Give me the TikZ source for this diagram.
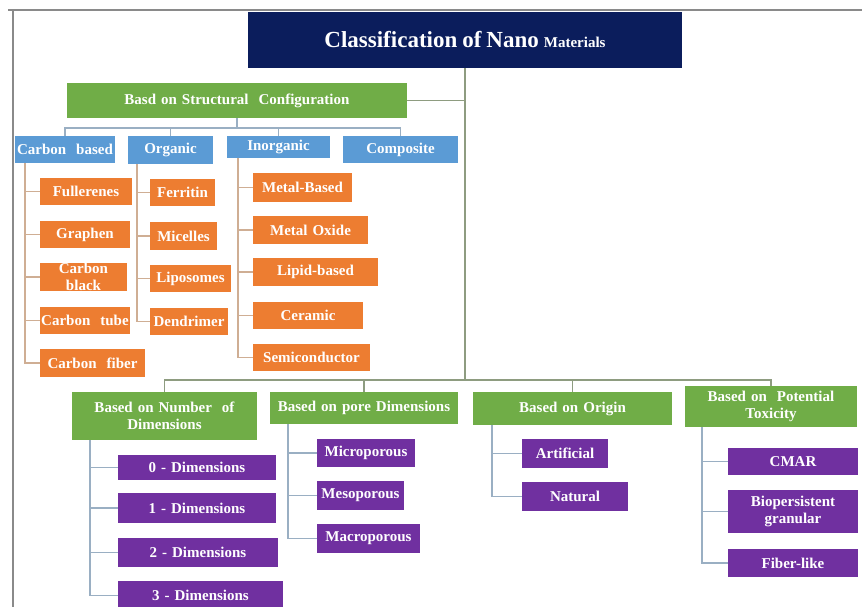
\documentclass[tikz,border=0pt]{standalone}
\usepackage{fontspec}
\setmainfont{Liberation Serif}
\definecolor{navyc}{HTML}{0B1D5C}
\definecolor{grnc}{HTML}{70AD47}
\definecolor{bluc}{HTML}{5B9BD5}
\definecolor{orgc}{HTML}{ED7D31}
\definecolor{purc}{HTML}{7030A0}
\definecolor{trkc}{HTML}{8E9C80}
\definecolor{occ}{HTML}{CFAE94}
\definecolor{bcc}{HTML}{9AAFC3}
\definecolor{frmc}{HTML}{8A8A8A}
\newcommand{\bx}[7]{%
  \pgfmathsetmacro\bxw{#5-#3}%
  \pgfmathsetmacro\bxh{#6-#4}%
  \pgfmathsetmacro\bxx{(#3+#5)/2}%
  \pgfmathsetmacro\bxy{(#4+#6)/2}%
  \node[#1, text width=\bxw pt, minimum height=\bxh pt] (#2) at (\bxx,\bxy) {#7};}
\begin{document}
\begin{tikzpicture}[x=1pt,y=-1pt,
  base/.style={inner sep=0pt, align=center, text=white, font=\bfseries\fontsize{15}{17}\selectfont},
  navbox/.style={base, fill=navyc},
  grnbox/.style={base, fill=grnc},
  blubox/.style={base, fill=bluc},
  orgbox/.style={base, fill=orgc},
  purbox/.style={base, fill=purc},
  trk/.style={draw=trkc, line width=1.2pt},
  sbus/.style={draw=bcc, line width=1.2pt},
  oc/.style={draw=occ, line width=1.2pt},
  bc/.style={draw=bcc, line width=1.2pt}]
\useasboundingbox (0,0) rectangle (862,607);
\fill[white] (0,0) rectangle (862,607);
% frame
\draw[frmc, line width=1.5pt] (8,10) -- (862,10);
\draw[frmc, line width=1.5pt] (13,10) -- (13,607);
% title and first level
\bx{navbox}{title}{248}{12}{682}{68}{{\fontsize{23}{26}\selectfont Classification of Nano} {\fontsize{15}{17}\selectfont Materials}}
\bx{grnbox}{struct}{67}{83}{407}{118}{Basd on Structural\ \ Configuration}
% blue
\bx{blubox}{cb}{15}{136}{115}{163}{Carbon\ \ based}
\bx{blubox}{orgn}{128}{136}{213}{164}{Organic}
\bx{blubox}{inorg}{227}{136}{330}{158}{Inorganic}
\bx{blubox}{comp}{343}{136}{458}{163}{Composite}
% carbon children
\bx{orgbox}{ful}{40}{178}{132}{205}{Fullerenes}
\bx{orgbox}{gra}{40}{221}{130}{248}{Graphen}
\bx{orgbox}{cbl}{40}{264}{127}{290}{\fontsize{15}{12}\selectfont Carbon\\black}
\bx{orgbox}{ctu}{40}{307}{130}{334}{Carbon\ \ tube}
\bx{orgbox}{cf}{40}{349}{145}{377}{Carbon\ \ fiber}
% organic children
\bx{orgbox}{fer}{150}{179}{215}{206}{Ferritin}
\bx{orgbox}{mic}{150}{222}{217}{250}{Micelles}
\bx{orgbox}{lip}{150}{265}{231}{292}{Liposomes}
\bx{orgbox}{den}{150}{308}{228}{335}{Dendrimer}
% inorganic children
\bx{orgbox}{mb}{253}{173}{352}{202}{Metal-Based}
\bx{orgbox}{mo}{253}{216}{368}{244}{Metal Oxide}
\bx{orgbox}{lb}{253}{258}{378}{286}{Lipid-based}
\bx{orgbox}{cer}{253}{302}{363}{329}{Ceramic}
\bx{orgbox}{semi}{253}{344}{370}{371}{Semiconductor}
% bottom headers
\bx{grnbox}{nd}{72}{392}{257}{440}{Based on Number\ \ of\\Dimensions}
\bx{grnbox}{pd}{270}{392}{458}{424}{Based on pore Dimensions}
\bx{grnbox}{orig}{473}{392}{672}{425}{Based on Origin}
\bx{grnbox}{tox}{685}{386}{857}{427}{Based on\ \ Potential\\Toxicity}
% dimension children
\bx{purbox}{d0}{118}{455}{276}{480}{0 - Dimensions}
\bx{purbox}{d1}{118}{493}{276}{523}{1 - Dimensions}
\bx{purbox}{d2}{118}{538}{278}{567}{2 - Dimensions}
\bx{purbox}{d3}{118}{581}{283}{610}{3 - Dimensions}
% pore children
\bx{purbox}{micro}{317}{439}{415}{467}{Microporous}
\bx{purbox}{meso}{317}{481}{404}{510}{Mesoporous}
\bx{purbox}{macro}{317}{524}{420}{553}{Macroporous}
% origin children
\bx{purbox}{art}{522}{439}{608}{468}{Artificial}
\bx{purbox}{nat}{522}{482}{628}{511}{Natural}
% toxicity children
\bx{purbox}{cmar}{728}{448}{858}{475}{CMAR}
\bx{purbox}{bio}{728}{490}{858}{533}{Biopersistent\\granular}
\bx{purbox}{fib}{728}{549}{858}{577}{Fiber-like}
% trunk
\coordinate (tb) at (465,380);
\draw[trk] (title.south) -- (title.south |- tb);
\draw[trk] (struct.east) -- (struct.east -| title.south);
\draw[trk] (nd.north) -- (nd.north |- tb) -- (tox.north |- tb) -- (tox.north);
\draw[trk] (pd.north) -- (pd.north |- tb);
\draw[trk] (orig.north) -- (orig.north |- tb);
% structural bus
\coordinate (sb) at (0,128);
\draw[sbus] (struct.south) -- (struct.south |- sb);
\draw[sbus] (cb.north) -- (cb.north |- sb) -- (comp.north |- sb) -- (comp.north);
\draw[sbus] (orgn.north) -- (orgn.north |- sb);
\draw[sbus] (inorg.north) -- (inorg.north |- sb);
% carbon
\coordinate (cv) at (25,0);
\draw[oc] (cb.south -| cv) |- (cf.west);
\foreach \n in {ful,gra,cbl,ctu} \draw[oc] (cv |- \n.west) -- (\n.west);
% organic
\coordinate (ov) at (137,0);
\draw[oc] (orgn.south -| ov) |- (den.west);
\foreach \n in {fer,mic,lip} \draw[oc] (ov |- \n.west) -- (\n.west);
% inorganic
\coordinate (iv) at (238,0);
\draw[oc] (inorg.south -| iv) |- (semi.west);
\foreach \n in {mb,mo,lb,cer} \draw[oc] (iv |- \n.west) -- (\n.west);
% dimensions
\coordinate (nv) at (90,0);
\draw[bc] (nd.south -| nv) |- (d3.west);
\foreach \n in {d0,d1,d2} \draw[bc] (nv |- \n.west) -- (\n.west);
% pore
\coordinate (pv) at (288,0);
\draw[bc] (pd.south -| pv) |- (macro.west);
\foreach \n in {micro,meso} \draw[bc] (pv |- \n.west) -- (\n.west);
% origin
\coordinate (gv) at (492,0);
\draw[bc] (orig.south -| gv) |- (nat.west);
\draw[bc] (gv |- art.west) -- (art.west);
% toxicity
\coordinate (tv) at (702,0);
\draw[bc] (tox.south -| tv) |- (fib.west);
\foreach \n in {cmar,bio} \draw[bc] (tv |- \n.west) -- (\n.west);
\end{tikzpicture}
\end{document}
